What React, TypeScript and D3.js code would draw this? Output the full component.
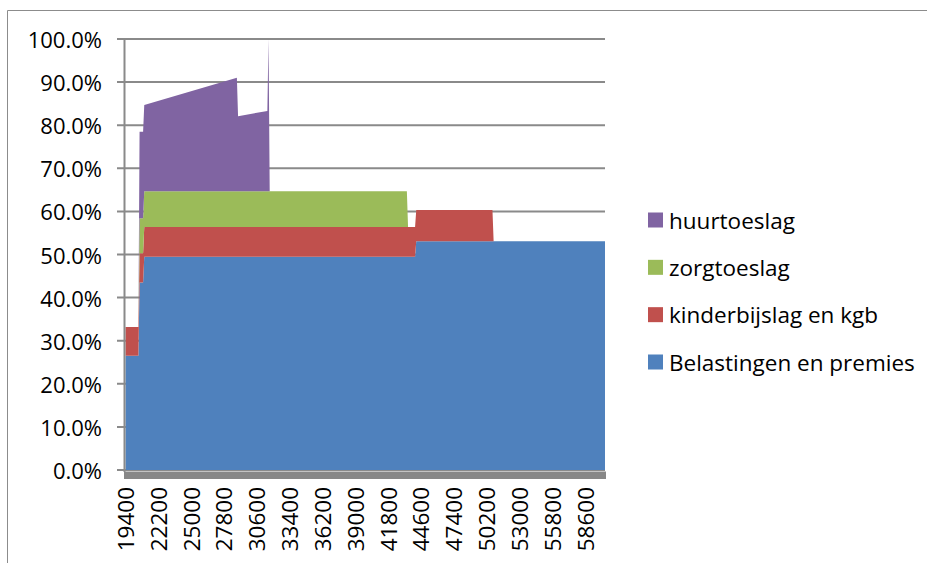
import React from "react";
import * as d3 from "d3";

// income breakpoints (category values where the stacked shares change)
const incomes = [19400, 20500, 20600, 20900, 21000, 28900, 29000, 31500, 31600, 31700, 43400, 43500, 44100, 44200, 50700, 50800, 60300];

// shares in percent
const belastingen = [26.5, 26.5, 43.5, 43.5, 49.5, 49.5, 49.5, 49.5, 49.5, 49.5, 49.5, 49.5, 49.5, 53.1, 53.1, 53.1, 53.1];
const kinderbijslag = [6.7, 6.7, 6.8, 6.8, 6.9, 6.9, 6.9, 6.9, 6.9, 6.9, 6.9, 6.9, 6.9, 7.2, 7.2, 0, 0];
const zorgtoeslag = [0, 0, 8.1, 8.1, 8.3, 8.3, 8.3, 8.3, 8.3, 8.3, 8.3, 0, 0, 0, 0, 0, 0];
const huurtoeslag = [0, 0, 20.1, 20.1, 20.0, 26.3, 17.4, 18.6, 35.3, 0, 0, 0, 0, 0, 0, 0, 0];

const tickLabels = [19400, 22200, 25000, 27800, 30600, 33400, 36200, 39000, 41800, 44600, 47400, 50200, 53000, 55800, 58600];
const yTicks = [0, 0.1, 0.2, 0.3, 0.4, 0.5, 0.6, 0.7, 0.8, 0.9, 1.0];

const keys = ["belastingen", "kinderbijslag", "zorgtoeslag", "huurtoeslag"];
const labels: Record<string, string> = {
  belastingen: "Belastingen en premies",
  kinderbijslag: "kinderbijslag en kgb",
  zorgtoeslag: "zorgtoeslag",
  huurtoeslag: "huurtoeslag",
};
const colors: Record<string, string> = {
  belastingen: "#4F81BD",
  kinderbijslag: "#C0504D",
  zorgtoeslag: "#9BBB59",
  huurtoeslag: "#8064A2",
};

const font = "'Open Sans', 'Liberation Sans', sans-serif";

export default function App() {
  const width = 927;
  const height = 563;
  const plot = { left: 125.5, right: 605, top: 39, bottom: 470 };

  const rows = incomes.map((inc, i) => ({
    inc,
    belastingen: belastingen[i] / 100,
    kinderbijslag: kinderbijslag[i] / 100,
    zorgtoeslag: zorgtoeslag[i] / 100,
    huurtoeslag: huurtoeslag[i] / 100,
  }));

  const x = d3.scaleLinear().domain([19400, 60300]).range([plot.left, plot.right]);
  const y = d3.scaleLinear().domain([0, 1]).range([plot.bottom, plot.top]);

  const stacked = d3.stack<any>().keys(keys)(rows);

  const area = d3
    .area<any>()
    .x((d) => x(d.data.inc))
    .y0((d) => y(d[0]))
    .y1((d) => y(d[1]));

  const fmt = d3.format(".1%");
  const legendOrder = ["huurtoeslag", "zorgtoeslag", "kinderbijslag", "belastingen"];
  const legendY = d3.scalePoint().domain(legendOrder).range([220, 362]);

  return (
    <svg
      width={width}
      height={height}
      style={{ position: "absolute", left: 0, top: 0, background: "#fff" }}
      fontFamily={font}
    >
      {/* chart frame */}
      <line x1={7.5} x2={width} y1={10.5} y2={10.5} stroke="#8c8c8c" strokeWidth={1} />
      <line x1={7.5} x2={7.5} y1={10.5} y2={height} stroke="#8c8c8c" strokeWidth={1} />

      {/* gridlines + y ticks */}
      {yTicks.map((t) => (
        <g key={t}>
          <line x1={117} x2={plot.right} y1={y(t)} y2={y(t)} stroke="#8a8a8a" strokeWidth={2} />
          <text
            x={102}
            y={y(t)}
            textAnchor="end"
            dominantBaseline="central"
            fontSize={22}
            fill="#000"
          >
            {fmt(t)}
          </text>
        </g>
      ))}

      {/* stacked areas */}
      {stacked.map((s) => (
        <path key={s.key} d={area(s) || ""} fill={colors[s.key]} />
      ))}

      {/* y axis line */}
      <line x1={124.5} x2={124.5} y1={plot.top} y2={plot.bottom + 2} stroke="#8a8a8a" strokeWidth={2} />

      {/* category axis band (dense tick marks) */}
      <rect x={124} y={471.5} width={plot.right + 1 - 124} height={7.5} fill="#878787" />

      {/* x labels */}
      {tickLabels.map((t) => (
        <text
          key={t}
          transform={`translate(${x(t)},${487}) rotate(-90)`}
          textAnchor="end"
          dominantBaseline="central"
          fontSize={22.5}
          fill="#000"
        >
          {t}
        </text>
      ))}

      {/* legend */}
      {legendOrder.map((k) => (
        <g key={k} transform={`translate(648,${legendY(k)})`}>
          <rect x={0} y={-7.5} width={15} height={15} fill={colors[k]} />
          <text x={21} y={0} dominantBaseline="central" fontSize={22.5} fill="#000">
            {labels[k]}
          </text>
        </g>
      ))}
    </svg>
  );
}
